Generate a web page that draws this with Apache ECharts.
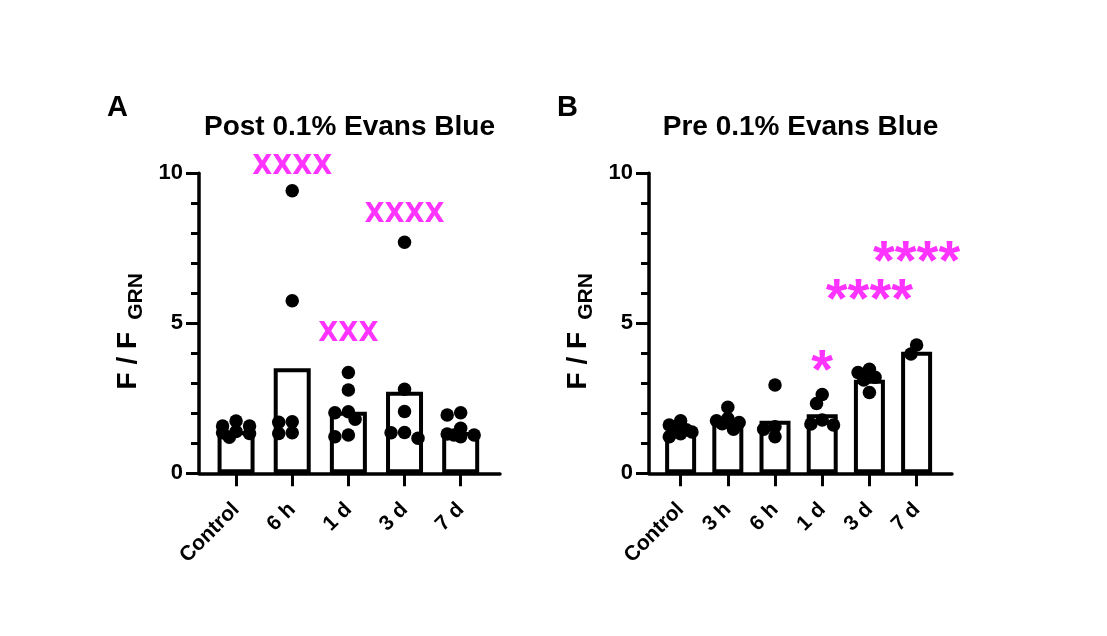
<!DOCTYPE html>
<html>
<head>
<meta charset="utf-8">
<script src="https://cdn.jsdelivr.net/npm/echarts@6/dist/echarts.min.js"></script>
<style>
  html, body { margin: 0; padding: 0; background: #fff; }
  #chart { width: 1107px; height: 636px; }
</style>
</head>
<body>
<div id="chart"></div>
<script>
// values (F / F_GRN)
var catsA = ['Control', '6 h', '1 d', '3 d', '7 d'];
var meansA = [1.40, 3.50, 2.05, 2.72, 1.38];
var pointsA = [
  [1.74, 1.58, 1.58, 1.39, 1.35, 1.33, 1.20],
  [9.42, 5.75, 1.72, 1.70, 1.35, 1.33],
  [3.36, 2.78, 2.05, 2.02, 1.80, 1.28, 1.22],
  [7.70, 2.80, 2.06, 1.36, 1.35, 1.17],
  [2.02, 1.94, 1.50, 1.31, 1.28, 1.28, 1.22]
];
var starCatsA = [1, 2, 3];
var starLevelsA = [10.28, 4.69, 8.67];
var starTextA = ['XXXX', 'XXX', 'XXXX'];

var catsB = ['Control', '3 h', '6 h', '1 d', '3 d', '7 d'];
var meansB = [1.40, 1.72, 1.75, 1.97, 3.12, 4.05];
var pointsB = [
  [1.75, 1.61, 1.45, 1.44, 1.38, 1.32, 1.22],
  [2.20, 1.83, 1.75, 1.69, 1.65, 1.47],
  [2.94, 1.55, 1.47, 1.22],
  [2.63, 2.33, 1.78, 1.64, 1.61],
  [3.47, 3.36, 3.20, 3.11, 2.69],
  [4.28, 3.98]
];
var starCatsB = [3, 4, 5];
var starLevelsB = [3.78, 6.17, 7.44];
var starTextB = ['*', '****', '****'];

var yTicks = [0, 5, 10];

var FONT = 'Arial, "Liberation Sans", Helvetica, sans-serif';
var MAGENTA = '#ff00ff';
var TOP = 173.3, HEIGHT = 300;

// simple beeswarm: push dots sideways when they would sit on each other
function spread(vals, pxX, pxY) {
  var placed = [], out = [];
  var step = 0.12 * pxX, minD = 9.5;
  vals.forEach(function (v) {
    var best = 0, bestD = -1;
    for (var k = 0; k < 5; k++) {
      var dx = k === 0 ? 0 : (k % 2 ? -1 : 1) * Math.ceil(k / 2) * step;
      var d = Infinity;
      placed.forEach(function (p) {
        var dd = Math.sqrt((p[0] - dx) * (p[0] - dx) + (p[1] - v) * (p[1] - v) * pxY * pxY);
        if (dd < d) d = dd;
      });
      if (d >= minD) { best = dx; break; }
      if (d > bestD) { best = dx; bestD = d; }
    }
    placed.push([best, v]);
    out.push(best / pxX);
  });
  return out;
}

var panels = [
  { cats: catsA, means: meansA, points: pointsA, sc: starCatsA, sl: starLevelsA, st: starTextA,
    left: 199, width: 301, xmin: -0.66, xmax: 4.70, barW: 37, letter: 'A', title: 'Post 0.1% Evans Blue', letterX: 107 },
  { cats: catsB, means: meansB, points: pointsB, sc: starCatsB, sl: starLevelsB, st: starTextB,
    left: 649, width: 303, xmin: -0.67, xmax: 5.75, barW: 31, letter: 'B', title: 'Pre 0.1% Evans Blue', letterX: 557 }
];

var grids = [], xAxes = [], yAxes = [], series = [], graphics = [];

panels.forEach(function (p, gi) {
  var idx = p.cats.map(function (c, i) { return i; });
  var pxX = p.width / (p.xmax - p.xmin);
  var pxY = HEIGHT / 10;

  grids.push({ left: p.left, top: TOP, width: p.width, height: HEIGHT });

  xAxes.push({
    gridIndex: gi, type: 'value', min: p.xmin, max: p.xmax,
    axisLine: { onZero: false, lineStyle: { color: '#000', width: 3.5 } },
    axisTick: { customValues: idx, length: 13, lineStyle: { color: '#000', width: 3 } },
    axisLabel: {
      customValues: idx, rotate: 45, margin: 33,
      formatter: function (v) { return p.cats[Math.round(v)]; },
      color: '#000', fontSize: 21, fontWeight: 'bold', fontFamily: FONT
    },
    splitLine: { show: false }
  });

  yAxes.push({
    gridIndex: gi, type: 'value', min: 0, max: 10, interval: 5,
    axisLine: { show: true, onZero: false, lineStyle: { color: '#000', width: 3.5 } },
    axisTick: { length: 13, lineStyle: { color: '#000', width: 3 } },
    minorTick: { show: true, splitNumber: 5, length: 8, lineStyle: { color: '#000', width: 3 } },
    splitLine: { show: false },
    axisLabel: {
      customValues: yTicks, margin: 16,
      color: '#000', fontSize: 22, fontWeight: 'bold', fontFamily: FONT
    },
    name: '{a|F / F}{b|GRN}',
    nameLocation: 'middle', nameRotate: 90, nameGap: 52,
    nameTextStyle: {
      padding: [0, 16, 0, 0],
      rich: {
        a: { fontSize: 28, fontWeight: 'bold', fontFamily: FONT, color: '#000', verticalAlign: 'bottom', padding: [0, 0, 5, 0] },
        b: { fontSize: 21, fontWeight: 'bold', fontFamily: FONT, color: '#000', verticalAlign: 'bottom', padding: [0, 0, 0, 12] }
      }
    }
  });

  series.push({
    type: 'bar', xAxisIndex: gi, yAxisIndex: gi, barWidth: p.barW, silent: true,
    data: p.means.map(function (m, i) { return [i, m]; }),
    itemStyle: { color: '#fff', borderColor: '#000', borderWidth: 4 },
    z: 2
  });

  var dots = [];
  p.points.forEach(function (vals, i) {
    var offs = spread(vals, pxX, pxY);
    vals.forEach(function (v, j) { dots.push([i + offs[j], v]); });
  });
  series.push({
    type: 'scatter', xAxisIndex: gi, yAxisIndex: gi, silent: true,
    symbolSize: 13.5, itemStyle: { color: '#000', opacity: 1 },
    data: dots, z: 3
  });

  series.push({
    type: 'scatter', xAxisIndex: gi, yAxisIndex: gi, silent: true, clip: false,
    symbolSize: 1, itemStyle: { color: 'rgba(0,0,0,0)' },
    data: p.sc.map(function (c, i) {
      var isStar = p.st[i].charAt(0) === '*';
      return {
        name: p.st[i], value: [c, p.sl[i]],
        label: isStar
          ? { fontSize: 56, fontFamily: FONT, offset: [0, 13] }
          : { fontSize: 26, fontFamily: '"DejaVu Sans", sans-serif', offset: [0, 2] }
      };
    }),
    label: { show: true, position: 'inside', formatter: '{b}', color: MAGENTA, fontWeight: 'bold' },
    z: 4
  });

  graphics.push({
    type: 'text', x: p.letterX, y: 108,
    style: { text: p.letter, font: 'bold 29px ' + FONT, fill: '#000', textAlign: 'left', textVerticalAlign: 'middle' }
  });
  graphics.push({
    type: 'text', x: p.left + p.width / 2, y: 127,
    style: { text: p.title, font: 'bold 28px ' + FONT, fill: '#000', textAlign: 'center', textVerticalAlign: 'middle' }
  });
});

var chart = echarts.init(document.getElementById('chart'));
chart.setOption({
  backgroundColor: '#fff',
  animation: false,
  grid: grids,
  xAxis: xAxes,
  yAxis: yAxes,
  series: series,
  graphic: graphics
});
</script>
</body>
</html>
